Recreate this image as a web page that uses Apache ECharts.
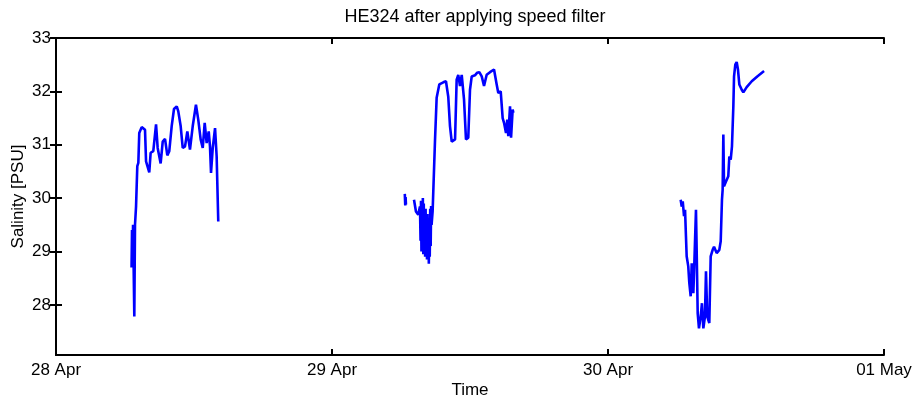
<!DOCTYPE html>
<html>
<head>
<meta charset="utf-8">
<script src="https://cdn.jsdelivr.net/npm/echarts@6/dist/echarts.min.js"></script>
<style>
html,body{margin:0;padding:0;background:#fff;}
#chart{width:917px;height:403px;}
</style>
</head>
<body>
<div id="chart"></div>
<script>
const tickLabels = ['28 Apr', '29 Apr', '30 Apr', '01 May'];
const yTicks = [28, 29, 30, 31, 32, 33];

// hours since 28 Apr 00:00
const seg1Hours = [6.57, 6.61, 6.65, 6.70, 6.74, 6.81, 6.87, 6.96, 7.07, 7.16, 7.24, 7.45, 7.74, 7.83, 8.11, 8.23, 8.46, 8.70, 8.84, 9.10, 9.28, 9.48, 9.68, 9.85, 10.06, 10.26, 10.50, 10.63, 10.84, 11.02, 11.22, 11.42, 11.65, 11.89, 12.17, 12.37, 12.58, 12.76, 12.93, 13.10, 13.28, 13.39, 13.48, 13.63, 13.83, 13.97, 14.11];
const seg1Salinity = [28.7, 29.4, 28.8, 29.5, 28.9, 27.78, 29.5, 29.84, 30.6, 30.66, 31.22, 31.33, 31.28, 30.69, 30.48, 30.85, 30.88, 31.38, 30.94, 30.65, 31.06, 31.11, 30.8, 30.88, 31.35, 31.67, 31.72, 31.63, 31.35, 30.94, 30.97, 31.25, 30.91, 31.35, 31.75, 31.47, 31.1, 30.94, 31.41, 31.03, 31.25, 30.97, 30.47, 30.94, 31.31, 30.78, 29.56];

const seg2aHours = [30.33, 30.37, 30.40, 30.43];
const seg2aSalinity = [30.08, 29.86, 30.02, 29.88];

const seg2Hours = [31.13, 31.30, 31.50, 31.65, 31.70, 31.74, 31.78, 31.82, 31.86, 31.90, 31.94, 31.98, 32.02, 32.06, 32.10, 32.14, 32.18, 32.22, 32.26, 32.30, 32.34, 32.38, 32.42, 32.46, 32.50, 32.54, 32.58, 32.62, 32.66, 32.75, 32.96, 33.10, 33.33, 33.68, 33.91, 34.11, 34.26, 34.41, 34.70, 34.84, 34.98, 35.13, 35.28, 35.48, 35.65, 35.85, 36.00, 36.15, 36.43, 36.63, 36.81, 37.02, 37.22, 37.45, 37.74, 38.09, 38.26, 38.32, 38.46, 38.67, 38.84, 38.96, 39.13, 39.24, 39.33, 39.48, 39.57, 39.71, 39.77];
const seg2Salinity = [29.97, 29.75, 29.69, 29.84, 29.2, 29.95, 29.0, 29.8, 29.1, 30.0, 28.95, 29.9, 29.05, 29.7, 28.9, 29.8, 29.0, 29.6, 28.85, 29.7, 28.9, 29.5, 28.77, 29.4, 28.9, 29.8, 29.1, 29.85, 29.5, 29.75, 31.1, 31.88, 32.13, 32.17, 32.19, 31.9, 31.35, 31.06, 31.1, 32.22, 32.31, 32.1, 32.31, 31.85, 31.1, 31.13, 32.03, 32.28, 32.3, 32.35, 32.36, 32.28, 32.1, 32.31, 32.36, 32.41, 32.42, 32.13, 31.97, 32.0, 31.5, 31.41, 31.22, 31.47, 31.16, 31.72, 31.13, 31.66, 31.6];

const seg3Hours = [54.32, 54.41, 54.50, 54.61, 54.70, 54.78, 54.84, 54.98, 55.07, 55.19, 55.28, 55.42, 55.50, 55.65, 55.71, 55.80, 55.91, 56.06, 56.17, 56.29, 56.43, 56.52, 56.63, 56.81, 56.93, 57.10, 57.22, 57.45, 57.68, 57.80, 57.91, 57.97, 58.03, 58.09, 58.26, 58.46, 58.55, 58.67, 58.78, 58.90, 58.96, 59.07, 59.19, 59.30, 59.42, 59.63, 59.77, 60.06, 60.50, 60.98, 61.57];
const seg3Salinity = [29.97, 29.84, 29.94, 29.66, 29.78, 29.28, 28.91, 28.72, 28.41, 28.16, 28.78, 28.22, 28.72, 29.78, 29.03, 27.84, 27.56, 27.78, 28.03, 27.56, 27.78, 28.63, 27.78, 27.66, 28.91, 29.03, 29.09, 28.97, 29.03, 29.19, 29.97, 30.16, 31.19, 30.22, 30.31, 30.41, 30.78, 30.72, 30.97, 31.72, 32.28, 32.5, 32.55, 32.41, 32.13, 32.03, 31.98, 32.08, 32.19, 32.28, 32.38];

function pairs(h, s) { return h.map((v, i) => [v, s[i]]); }

const FONT = 'Liberation Sans, Arial, sans-serif';
const chart = echarts.init(document.getElementById('chart'), null, {renderer: 'canvas'});

function lineSeries(h, s) {
  return {
    type: 'line', data: pairs(h, s), showSymbol: false, symbol: 'none',
    lineStyle: {color: '#0000ff', width: 2.6}, itemStyle: {color: '#0000ff'},
    animation: false, silent: true, xAxisIndex: 0, yAxisIndex: 0
  };
}

const axisLineStyle = {show: true, lineStyle: {color: '#000', width: 2}};
const tickStyle = {color: '#000', width: 2};

chart.setOption({
  backgroundColor: '#fff',
  animation: false,
  title: {
    text: 'HE324 after applying speed filter',
    left: 470, top: 3, textAlign: 'center',
    textStyle: {fontFamily: FONT, fontSize: 18, fontWeight: 'normal', color: '#000'}
  },
  grid: {left: 56, right: 33, top: 38, bottom: 48, containLabel: false, outerBoundsMode: 'none'},
  xAxis: [{
    type: 'value', min: 0, max: 72, interval: 24, position: 'bottom',
    name: 'Time', nameLocation: 'middle', nameGap: 27, nameMoveOverlap: false,
    nameTextStyle: {fontFamily: FONT, fontSize: 17, color: '#000'},
    axisLine: axisLineStyle,
    axisTick: {show: true, inside: true, length: 6, lineStyle: tickStyle},
    axisLabel: {fontFamily: FONT, fontSize: 17, color: '#000', margin: 7,
      formatter: v => tickLabels[Math.round(v / 24)]},
    splitLine: {show: false}
  }, {
    type: 'value', min: 0, max: 72, interval: 24, position: 'top',
    axisLine: axisLineStyle,
    axisTick: {show: true, inside: true, length: 6, lineStyle: tickStyle},
    axisLabel: {show: false}, splitLine: {show: false}
  }],
  yAxis: [{
    type: 'value', min: 27.06, max: 33, position: 'left',
    name: 'Salinity [PSU]', nameLocation: 'middle', nameGap: 29, nameRotate: 90, nameMoveOverlap: false,
    nameTextStyle: {fontFamily: FONT, fontSize: 17, color: '#000'},
    axisLine: axisLineStyle,
    axisTick: {show: true, inside: true, length: 6, customValues: yTicks, lineStyle: tickStyle},
    axisLabel: {fontFamily: FONT, fontSize: 17, color: '#000', margin: 5, customValues: yTicks},
    splitLine: {show: false}
  }, {
    type: 'value', min: 27.06, max: 33, position: 'right',
    axisLine: axisLineStyle,
    axisTick: {show: true, inside: true, length: 6, customValues: yTicks, lineStyle: tickStyle},
    axisLabel: {show: false, customValues: yTicks}, splitLine: {show: false}
  }],
  series: [
    lineSeries(seg1Hours, seg1Salinity),
    lineSeries(seg2aHours, seg2aSalinity),
    lineSeries(seg2Hours, seg2Salinity),
    lineSeries(seg3Hours, seg3Salinity)
  ]
});
</script>
</body>
</html>
